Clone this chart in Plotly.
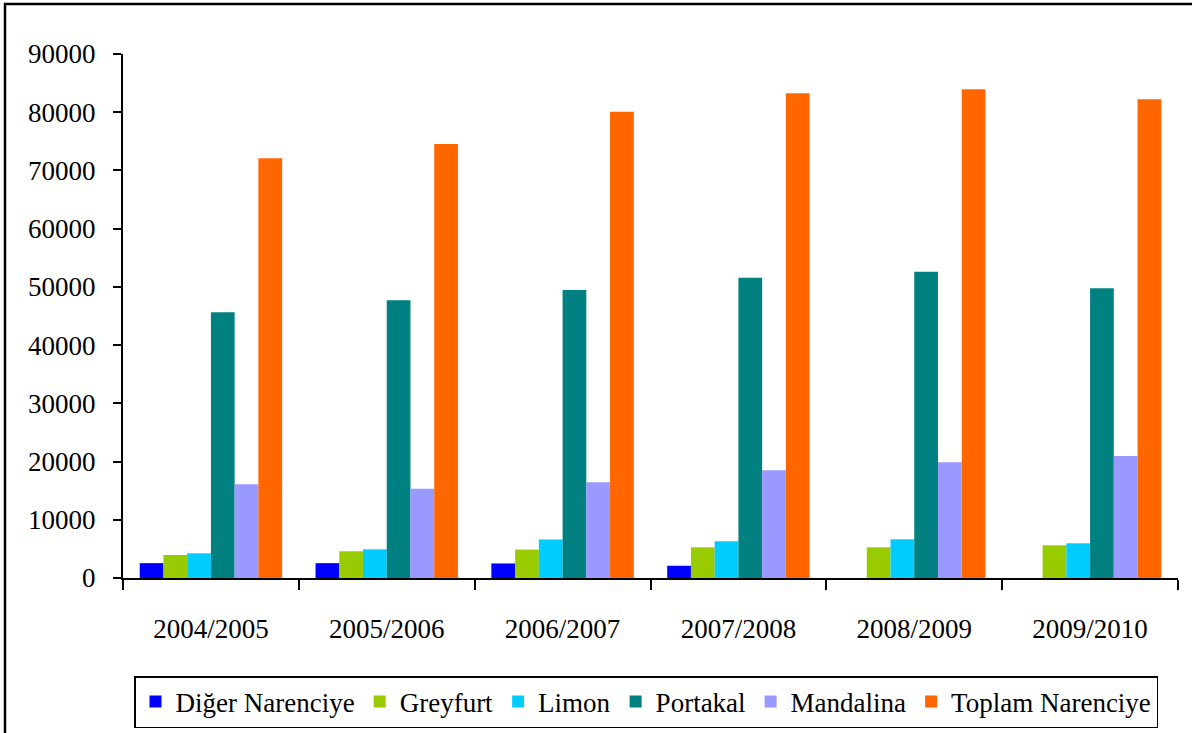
import plotly.graph_objects as go

categories = ["2004/2005", "2005/2006", "2006/2007", "2007/2008", "2008/2009", "2009/2010"]
diger = [2550, 2550, 2500, 2100, None, None]
greyfurt = [3950, 4590, 4880, 5270, 5270, 5620]
limon = [4240, 4930, 6600, 6300, 6650, 5960]
portakal = [45640, 47700, 49470, 51580, 52610, 49760]
mandalina = [16090, 15340, 16440, 18500, 19870, 20950]
toplam = [72090, 74540, 80090, 83250, 83940, 82220]

series_names = ["Diğer Narenciye", "Greyfurt", "Limon", "Portakal", "Mandalina", "Toplam Narenciye"]
series_values = [diger, greyfurt, limon, portakal, mandalina, toplam]
colors = ["#0000FF", "#99CC00", "#00CCFF", "#008080", "#9999FF", "#FF6600"]

FONT = "Liberation Serif"

fig = go.Figure()
for name, vals, col in zip(series_names, series_values, colors):
    fig.add_trace(go.Bar(x=categories, y=vals, name=name, marker=dict(color=col, line=dict(width=0))))

W, H = 1192, 733
ml, mt = 123, 54
mr = W - 1178
mb = H - 578
pw = W - ml - mr
ph = H - mt - mb

def px_x(x):
    return (x - ml) / pw

def px_y(y):
    return (H - mb - y) / ph

fig.update_layout(
    width=W, height=H,
    margin=dict(l=ml, r=mr, t=mt, b=mb, autoexpand=False),
    paper_bgcolor="white", plot_bgcolor="white",
    barmode="group", bargap=0.19, bargroupgap=0,
    font=dict(family=FONT, size=27, color="black"),
    showlegend=True,
    legend=dict(
        orientation="h",
        x=px_x(646), xanchor="center",
        y=px_y(676), yanchor="top",
        bordercolor="black", borderwidth=1.5,
        font=dict(family=FONT, size=27, color="black"),
        bgcolor="white",
        itemwidth=30,
    ),
    xaxis=dict(
        showline=True, linecolor="black", linewidth=2,
        ticks="outside", tickson="boundaries", ticklen=10, tickwidth=2, tickcolor="black",
        ticklabelstandoff=26, automargin=False,
        showgrid=False, zeroline=False,
    ),
    yaxis=dict(
        range=[0, 90000], dtick=10000, tickformat="d",
        showline=True, linecolor="black", linewidth=2,
        ticks="outside", ticklen=8, tickwidth=2, tickcolor="black",
        ticklabelstandoff=12, automargin=False,
        showgrid=False, zeroline=False,
    ),
)

fig.add_shape(
    type="rect", xref="paper", yref="paper",
    x0=px_x(5), x1=px_x(1210), y0=px_y(750), y1=px_y(4),
    line=dict(color="black", width=2.5), fillcolor="rgba(0,0,0,0)", layer="below",
)

fig.write_html(
    "out.html",
    config={"displayModeBar": False},
    post_script="document.body.style.margin='0px';document.body.style.overflow='hidden';",
)
